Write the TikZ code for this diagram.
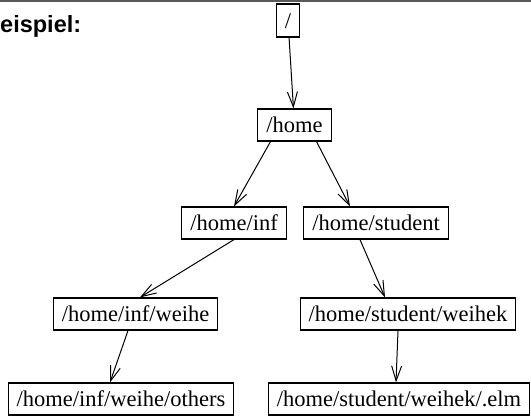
\documentclass[tikz,border=0pt]{standalone}
\usepackage{fontspec}
\setmainfont{Liberation Serif}
\newfontfamily\headfont{Liberation Sans}
\usetikzlibrary{arrows.meta, positioning}
\tikzstyle{dir} = [rectangle, draw=black, line width=1.2pt, minimum height=32pt, inner xsep=8.5pt, inner ysep=0pt, text height=15.5pt, text depth=0pt, font=\fontsize{22.5}{27}\selectfont]
\tikzstyle{arrow} = [line width=1pt, -{Straight Barb[length=15pt, width=10pt, line width=1pt]}]
\tikzstyle{title} = [anchor=base west, inner sep=0pt, font=\headfont\bfseries\fontsize{23.5}{28}\selectfont]
\begin{document}
\begin{tikzpicture}[x=1pt, y=-1pt]
	\useasboundingbox (0,0) rectangle (531,416);
	\draw [line width=2pt, black!65] (0,1) -- (531,1);
	\node (heading) [title] at (0,32) {eispiel:};
	\node (root) [dir, minimum height=33pt] at (288,20.5) {/};
	\node (home) [dir, below = 70.8pt of root, xshift=6.5pt] {/home};
	\node (homeInf) [dir, below = 64.8pt of home, xshift=-60.5pt] {/home/inf};
	\node (homeStudent) [dir, below = 64.8pt of home, xshift=81.5pt] {/home/student};
	\node (infWeihe) [dir, below = 57.8pt of homeInf, xshift=-98.5pt] {/home/inf/weihe};
	\node (studentWeihek) [dir, below = 57.8pt of homeStudent, xshift=32pt] {/home/student/weihek};
	\node (weiheOthers) [dir, below = 51.8pt of infWeihe, xshift=-14.5pt] {/home/inf/weihe/others};
	\node (weihekElm) [dir, below = 51.8pt of studentWeihek, xshift=-9pt] {/home/student/weihek/.elm};
	\draw [arrow] (root) -- (home);
	\draw [arrow] ([xshift=-24pt]home.south) -- (homeInf.north);
	\draw [arrow] ([xshift=22pt]home.south) -- ([xshift=-26pt]homeStudent.north);
	\draw [arrow] (homeInf.south) -- ([xshift=4.5pt]infWeihe.north);
	\draw [arrow] ([xshift=-16pt]homeStudent.south) -- ([xshift=-23pt]studentWeihek.north);
	\draw [arrow] ([xshift=-7.5pt]infWeihe.south) -- ([xshift=-11pt]weiheOthers.north);
	\draw [arrow] ([xshift=-10pt]studentWeihek.south) -- ([xshift=-3pt]weihekElm.north);
\end{tikzpicture}
\end{document}
